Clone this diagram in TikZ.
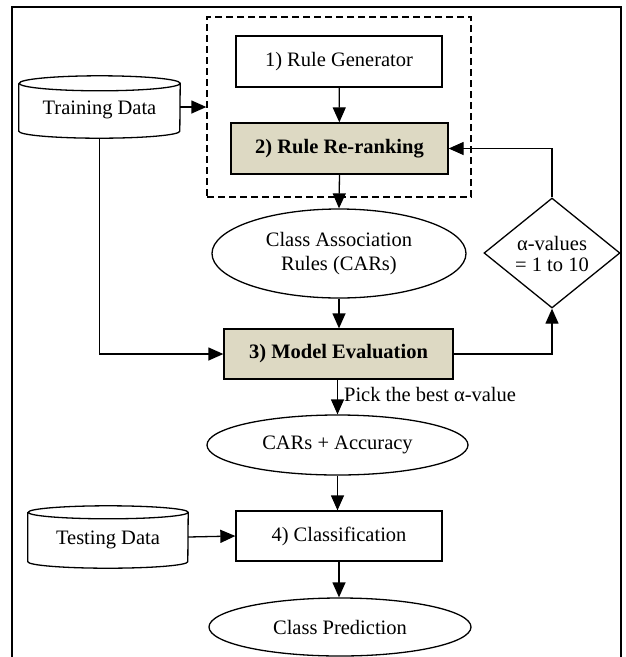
\documentclass[tikz,border=0pt]{standalone}
\usepackage{fontspec}
\setmainfont{Liberation Serif}
\usetikzlibrary{arrows.meta,shapes.geometric,positioning}
\definecolor{stagefill}{RGB}{221,217,195}
\tikzset{
  base/.style={line width=1.3pt},
  flow/.style={base,-{Triangle[length=15pt,width=13pt]}},
  proc/.style={base,draw,rectangle,inner sep=0pt,minimum height=51pt},
  keyproc/.style={proc,fill=stagefill,font=\fontsize{20.5}{24.6}\selectfont\bfseries},
  result/.style={base,draw,ellipse,inner sep=0pt,align=center},
  decision/.style={base,draw,diamond,inner sep=0pt,minimum width=136pt,minimum height=110pt},
  store/.style={inner sep=0pt},
}
\begin{document}
\begin{tikzpicture}[x=1pt,y=1pt,font=\fontsize{20.5}{24.6}\selectfont]
\useasboundingbox (0,0) rectangle (625,-657);
\clip (0,0) rectangle (625,-657);
% outer frame
\draw[base] (12,-7) rectangle (621,-700);

% rule generation stage (dashed group)
\node[base,draw,dash pattern=on 7pt off 4pt,minimum width=264pt,minimum height=180pt,inner sep=0pt] (stage) at (339,-107) {};
\node[proc,minimum width=206pt] (gen) at (339,-61.5) {1) Rule Generator};
\node[keyproc,minimum width=217pt] (rerank) at (339.5,-148.5) {2) Rule Re-ranking};

% training data store
\node[store,minimum width=161pt,minimum height=62pt] (train) at (99.5,-107) {};
\draw[base,fill=white] ([yshift=-7.5pt]train.north west) -- ([yshift=7pt]train.south west)
  arc[start angle=180,end angle=360,x radius=80.5pt,y radius=7pt]
  -- ([yshift=-7.5pt]train.north east)
  arc[start angle=0,end angle=360,x radius=80.5pt,y radius=7.5pt];
\node at ([yshift=-3pt]train.center) {Training Data};

% rules and evaluation
\node[result,minimum width=254pt,minimum height=89pt] (cars) at (339,-253.5) {Class Association\\Rules (CARs)};
\node[decision] (alpha) at (552,-253) {};
\node[align=center,font=\fontsize{20.5}{21}\selectfont] at ([yshift=-1pt]alpha.center) {α-values\\= 1 to 10};
\node[keyproc,minimum width=229pt,minimum height=50pt] (model) at (338.5,-354) {3) Model Evaluation};
\node[result,minimum width=261pt,minimum height=60pt] (acc) at (337.5,-445) {CARs + Accuracy};

% testing data store
\node[store,minimum width=160pt,minimum height=62pt] (test) at (108,-537) {};
\draw[base,fill=white] ([yshift=-6.5pt]test.north west) -- ([yshift=6.5pt]test.south west)
  arc[start angle=180,end angle=360,x radius=80pt,y radius=6.5pt]
  -- ([yshift=-6.5pt]test.north east)
  arc[start angle=0,end angle=360,x radius=80pt,y radius=6.5pt];
\node at ([yshift=-3pt]test.center) {Testing Data};

\node[proc,minimum width=206pt,minimum height=50pt] (classify) at (339,-536) {4) Classification};
\node[result,minimum width=262pt,minimum height=58pt] (pred) at (340,-627) {Class Prediction};

% connectors
\draw[flow] (gen) -- (rerank);
\draw[flow] (rerank.south) -- (cars.north);
\draw[flow] (cars.south) -- (cars.south |- model.north);
\draw[flow] (model.south -| acc.north) -- (acc.north) node[pos=0.42,right=6pt,inner sep=0pt] {Pick the best α-value};
\draw[flow] (acc.south) -- (acc.south |- classify.north);
\draw[flow] (classify.south) -- (classify.south |- pred.north);
\draw[flow] (train.east) -- (stage.west);
\draw[flow] (train.south) |- (model.west);
\draw[flow] (model.east) -| (alpha.south);
\draw[flow] (alpha.north) |- (rerank.east);
\draw[flow] (test.east) -- (classify.west);
\end{tikzpicture}
\end{document}
